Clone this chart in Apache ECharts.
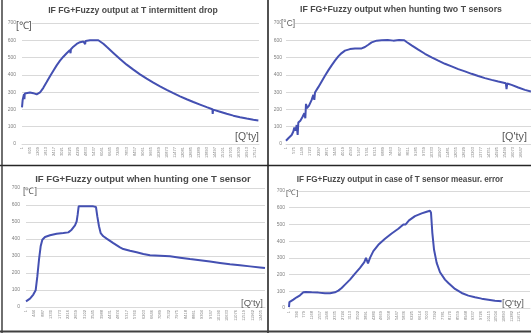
<!DOCTYPE html>
<html lang="en">
<head>
<meta charset="UTF-8">
<title>IF FG+Fuzzy output</title>
<script src="https://cdn.jsdelivr.net/npm/echarts@6/dist/echarts.min.js"></script>
<style>
  html, body { margin: 0; padding: 0; background: #fff; }
  #chart { width: 531px; height: 333px; }
</style>
</head>
<body>
<div id="chart"></div>
<script>
// sample-number tick labels on each x axis
const dropTicks = [1, 605, 1209, 1813, 2417, 3021, 3625, 4229, 4833, 5437, 6041, 6645, 7249, 7853, 8457, 9061, 9665, 10269, 10873, 11477, 12081, 12685, 13289, 13893, 14497, 15101, 15705, 16309, 16913, 17517];
const twoTicks = [1, 575, 1149, 1723, 2297, 2871, 3445, 4019, 4593, 5167, 5741, 6315, 6889, 7463, 8037, 8611, 9185, 9759, 10333, 10907, 11481, 12055, 12629, 13203, 13777, 14351, 14925, 15499, 16073, 16647];
const oneTicks = [1, 444, 887, 1330, 1773, 2216, 2659, 3102, 3545, 3988, 4431, 4874, 5317, 5760, 6203, 6646, 7089, 7532, 7975, 8418, 8861, 9304, 9747, 10190, 10633, 11076, 11519, 11962, 12405];
const errTicks = [1, 390, 779, 1168, 1557, 1946, 2335, 2724, 3113, 3502, 3891, 4280, 4669, 5058, 5447, 5836, 6225, 6614, 7003, 7392, 7781, 8170, 8559, 8948, 9337, 9726, 10115, 10504, 10893, 11282, 11671];

// T intermittent drop
const dropX = [0, 50, 100, 150, 180, 210, 351, 602, 852, 1103, 1228, 1354, 1604, 1855, 2106, 2357, 2607, 2858, 3109, 3359, 3610, 3650, 3680, 3861, 4112, 4362, 4613, 4750, 4780, 4864, 5114, 5741, 5866, 6117, 6368, 6869, 7370, 7872, 8373, 8874, 9376, 9877, 10379, 10880, 11381, 11883, 12384, 12886, 13387, 13889, 14315, 14340, 14370, 14891, 15393, 15894, 16396, 16897, 17398, 17774];
const dropY = [212, 255, 272, 288, 260, 292, 297, 298, 294, 287, 288, 298, 325, 358, 392, 424, 455, 482, 505, 525, 544, 525, 548, 563, 579, 589, 593, 578, 596, 597, 600, 600, 596, 580, 562, 527, 492, 459, 430, 403, 378, 355, 333, 313, 294, 276, 259, 243, 228, 213, 201, 174, 199, 187, 175, 164, 155, 147, 140, 136];

// hunting two T sensors
const twoX = [0, 165, 401, 519, 590, 684, 755, 826, 873, 1015, 1156, 1298, 1369, 1416, 1487, 1628, 1817, 1935, 2006, 2053, 2289, 2525, 2761, 2997, 3233, 3469, 3705, 3941, 4177, 4531, 4885, 5357, 5593, 5829, 6065, 6419, 6773, 7200, 7600, 8000, 8378, 8543, 8897, 9369, 9841, 10313, 10785, 11257, 11729, 12201, 12673, 13145, 13617, 14089, 14561, 15033, 15570, 15620, 15670, 15977, 16449, 16921, 17346];
const twoY = [19, 33, 52, 72, 95, 77, 110, 52, 124, 135, 155, 178, 149, 232, 207, 222, 255, 284, 255, 298, 329, 362, 395, 426, 455, 482, 507, 526, 540, 549, 553, 553, 561, 574, 588, 598, 600, 602, 598, 601, 600, 590, 571, 546, 522, 501, 482, 464, 449, 433, 420, 406, 393, 381, 371, 362, 352, 317, 350, 342, 327, 313, 304];

// hunting one T sensor
const oneX = [0, 211, 387, 510, 598, 686, 774, 862, 1003, 1267, 1619, 1971, 2235, 2411, 2587, 2675, 2728, 2781, 2851, 3555, 3696, 3766, 3854, 3942, 4083, 4259, 4611, 4963, 5139, 5491, 5843, 6195, 6547, 7075, 7603, 8131, 8659, 9187, 9715, 10243, 10771, 11299, 11827, 12355, 12619];
const oneY = [33, 49, 73, 98, 180, 278, 357, 396, 412, 422, 431, 435, 439, 455, 480, 504, 543, 592, 594, 592, 588, 533, 475, 435, 416, 402, 376, 351, 341, 331, 322, 312, 304, 302, 298, 290, 282, 275, 267, 259, 251, 245, 239, 233, 229];

// T sensor measurement error
const errX = [0, 20, 51, 220, 389, 558, 727, 845, 1149, 1487, 1825, 2079, 2332, 2501, 2670, 2839, 3093, 3346, 3600, 3819, 3904, 3955, 4005, 4107, 4276, 4529, 4867, 5205, 5543, 5797, 5847, 5915, 6084, 6388, 6726, 6980, 7149, 7200, 7267, 7352, 7487, 7656, 7909, 8080, 8130, 8163, 8416, 8754, 9092, 9430, 9768, 10106, 10444, 10782];
const errY = [5, 35, 30, 50, 64, 76, 94, 96, 94, 92, 88, 88, 94, 104, 120, 140, 170, 206, 240, 274, 300, 306, 266, 300, 340, 378, 414, 446, 474, 500, 510, 500, 524, 550, 566, 576, 582, 570, 450, 350, 270, 214, 170, 150, 160, 140, 114, 90, 74, 64, 56, 50, 44, 40];

const lineColor = '#4450b2';
const gridColor = '#d9d9d9';
const tickColor = '#808080';

const panels = [
    { title: 'IF FG+Fuzzy output at T intermittent drop', tw: 170, tx: 133, ty: 11,
      unit: '[℃]', ux: 16, uy: 26, uw: 16, q: "[Q'ty]", qx: 259, qy: 137, qw: 24,
      grid: { left: 22, right: 272, top: 23, bottom: 189 }, max: 17822, ticks: dropTicks, xs: dropX, ys: dropY, ym: 6 },
    { title: 'IF FG+Fuzzy output when hunting two T sensors', tw: 202, tx: 401, ty: 10,
      unit: '[°C]', ux: 281, uy: 24, uw: 14, q: "[Q'ty]", qx: 527, qy: 137, qw: 25,
      grid: { left: 286, right: 0, top: 23, bottom: 189 }, max: 17353, ticks: twoTicks, xs: twoX, ys: twoY, ym: 4 },
    { title: 'IF FG+Fuzzy output when hunting one T sensor', tw: 216, tx: 143, ty: 179,
      unit: '[℃]', ux: 23, uy: 192, uw: 14, q: "[Q'ty]", qx: 263, qy: 303, qw: 22,
      grid: { left: 26, right: 266, top: 188, bottom: 26 }, max: 12620, ticks: oneTicks, xs: oneX, ys: oneY, ym: 6 },
    { title: 'IF FG+Fuzzy output in case of T sensor measur. error', tw: 207, tx: 400, ty: 180,
      unit: '[℃]', ux: 286, uy: 193, uw: 12, q: "[Q'ty]", qx: 524, qy: 303, qw: 22,
      grid: { left: 289, right: 1, top: 191, bottom: 25 }, max: 12219, ticks: errTicks, xs: errX, ys: errY, ym: 4 }
];

// font size that makes a text span the given width
const measure = document.createElement('canvas').getContext('2d');
function fitSize(text, width, weight) {
    measure.font = weight + ' 10px "Liberation Sans"';
    return 10 * width / measure.measureText(text).width;
}

function label(text, x, y, width, opts) {
    const weight = opts.weight || 'normal';
    return {
        type: 'text', x: x, y: y, z: 100,
        style: {
            text: text,
            fill: opts.color || '#595959',
            fontFamily: 'Liberation Sans',
            fontWeight: weight,
            fontSize: fitSize(text, width, weight),
            align: opts.align || 'left',
            verticalAlign: 'middle',
            backgroundColor: opts.bg || null
        }
    };
}

function border(x1, y1, x2, y2, w, color) {
    return { type: 'line', z: 100, shape: { x1, y1, x2, y2 }, style: { stroke: color, lineWidth: w } };
}

const chart = echarts.init(document.getElementById('chart'));

const graphic = [];
panels.forEach(p => {
    graphic.push(label(p.title, p.tx, p.ty, p.tw, { weight: 'bold', align: 'center', color: '#4a4a4a' }));
    graphic.push(label(p.unit, p.ux, p.uy, p.uw, { bg: '#fff' }));
    graphic.push(label(p.q, p.qx, p.qy, p.qw, { align: 'right' }));
});
graphic.push(border(268, 0, 268, 333, 1.6, '#262626'));
graphic.push(border(0, 165.5, 531, 165.5, 1.6, '#262626'));
graphic.push(border(2, 0, 2, 333, 1.4, '#333'));
graphic.push(border(0, 331.5, 531, 331.5, 2, '#404040'));

chart.setOption({
    animation: false,
    graphic: graphic,
    grid: panels.map(p => p.grid),
    xAxis: panels.map((p, i) => {
        const step = p.ticks[1] - p.ticks[0];
        return {
            type: 'value', gridIndex: i, min: 0, max: p.max, interval: step,
            axisLine: { lineStyle: { color: gridColor } },
            axisTick: { show: false },
            splitLine: { show: false },
            axisLabel: {
                rotate: 90, fontSize: 4, color: tickColor, margin: 3, fontFamily: 'Liberation Sans',
                formatter: v => {
                    const k = Math.round(v / step);
                    return Math.abs(v - k * step) < 1e-6 && k < p.ticks.length ? String(p.ticks[k]) : '';
                }
            }
        };
    }),
    yAxis: panels.map((p, i) => ({
        type: 'value', gridIndex: i, min: 0, max: 700, interval: 100,
        axisLine: { show: false },
        axisTick: { show: false },
        splitLine: { lineStyle: { color: gridColor, width: 1 } },
        axisLabel: { fontSize: 5, color: tickColor, margin: p.ym, fontFamily: 'Liberation Sans' }
    })),
    series: panels.map((p, i) => ({
        type: 'line', xAxisIndex: i, yAxisIndex: i,
        data: p.xs.map((x, k) => [x, p.ys[k]]),
        showSymbol: false,
        lineStyle: { color: lineColor, width: 2 },
        silent: true
    }))
});
</script>
</body>
</html>
